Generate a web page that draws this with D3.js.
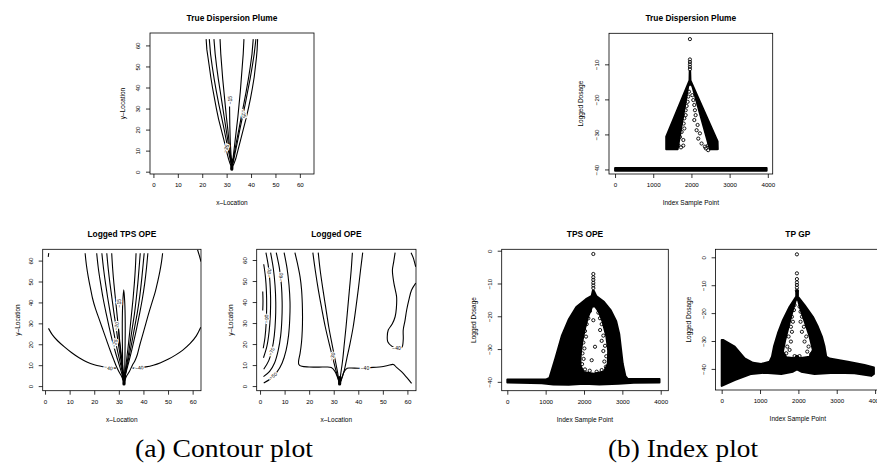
<!DOCTYPE html>
<html>
<head>
<meta charset="utf-8">
<script src="https://cdn.jsdelivr.net/npm/d3@7"></script>
<style>
  body { margin: 0; background: #fff; }
  svg { display: block; font-family: "Liberation Sans", Arial, Helvetica, sans-serif; }
  .title { font-weight: bold; font-size: 8.4px; text-anchor: middle; }
  .axlab { font-size: 6.5px; text-anchor: middle; }
  .tick text { font-family: "Liberation Sans", Arial, sans-serif; font-size: 6.2px; }
  .tick line { stroke-width: 0.8; }
  .caption { font-family: "Liberation Serif", "DejaVu Serif", serif; font-size: 26px; text-anchor: middle; }
  .clab { font-size: 5px; }
</style>
</head>
<body>
<div id="chart"></div>
<script>
// ---------------- data ----------------
const contourTicks = [0, 10, 20, 30, 40, 50, 60];
const indexTicks = [0, 1000, 2000, 3000, 4000];
const trueDoseTicks = [-10, -20, -30, -40];
const fitDoseTicks = [0, -10, -20, -30, -40];

// (a) True dispersion plume, contour lines as [x, y]
const truePlumeLines = [
  [[21.6,63],[21.9,58],[22.4,54],[22.9,50],[23.5,45],[24.2,40],[25,35],[25.8,30],[26.7,25],[27.8,20],[28.9,15],[29.9,10],[30.8,6],[31.5,3.5],[32.2,2.2],[32.9,3.5],[33.7,6],[34.6,10],[35.7,15],[36.8,20],[37.9,25],[38.9,30],[39.8,35],[40.6,40],[41.3,45],[41.8,50],[42.2,54],[42.5,58],[42.7,63]],
  [[22.9,63],[23.4,56],[24.1,50],[24.9,44],[25.8,38],[26.8,32],[27.9,26],[29,20],[30,14],[30.9,9],[31.6,5],[32.2,3],[32.8,5],[33.5,9],[34.4,14],[35.4,20],[36.5,26],[37.6,32],[38.6,38],[39.6,44],[40.5,50],[41.3,56],[42,63]],
  [[24.8,63],[25.3,56],[25.9,50],[26.6,44],[27.4,38],[28.2,32],[29,26],[29.8,20],[30.6,14],[31.2,9],[31.8,5],[32.2,3.2],[32.6,5],[33.2,9],[34,14],[35,20],[36,26],[37,32],[38,38],[38.9,44],[39.7,50],[40.4,56],[40.9,63]],
  [[27.3,63],[27.6,56],[28,50],[28.4,44],[28.9,38],[29.4,32],[29.9,26],[30.5,20],[31,14],[31.5,9],[31.9,5],[32.2,3.5],[32.5,5],[32.9,9],[33.4,14],[34,20],[34.6,26],[35.1,32],[35.6,38],[36,44],[36.4,50],[36.8,56],[37.1,63]],
  [[31.2,31],[31.3,22],[31.5,14],[31.8,8],[32.1,4]]
];
const truePlumeCore = [[32.1,1.2],[32.2,5.5]];
const truePlumeLabels = [[31.3,34,'-15',-90],[29.7,11,'-35',-70],[37,27.5,'-25',70]];

// (a) Logged TPS OPE
const tpsLines = [
  [[1.4,27.6],[3,24.5],[5,21.8],[8,18.6],[11,15.8],[14,13.4],[17,11.5],[20,10.2],[23,9.4],[26,8.8],[28.8,8.6]],
  [[35.6,8.6],[38.5,8.8],[41,9.2],[44,10],[47,11.2],[50,12.8],[53,14.8],[56,17.2],[59,20.4],[61.5,24],[63.3,28.1]],
  [[1.3,61.8],[1.5,63.6]],
  [[62,65.2],[62.7,62.5],[63.4,59.5]],
  [[16.3,63.5],[16.8,58],[17.6,52],[18.6,46],[19.3,42],[20.5,37],[22,32],[23.5,27],[25,22],[26.5,17],[27.8,13],[28.8,10],[30,7],[31.2,4.5],[32.1,2],[33,4.5],[34.3,7],[35.5,10],[36.5,12],[37.5,15],[38.6,20],[39.8,25],[41,30],[42.2,35],[43.5,40],[44.8,45],[45.8,50],[46.7,55],[47.3,59],[47.8,63.5]],
  [[21,63.5],[21.7,56],[22.6,49],[23.6,42],[24.8,35],[26.1,28],[27.5,21],[28.9,15],[30.2,10],[31.2,6],[32,2.5],[32.8,6],[33.7,10],[34.8,15],[36,21],[37.3,28],[38.5,35],[39.6,42],[40.5,49],[41.2,56],[41.8,63.5]],
  [[23.1,63.5],[23.8,56],[24.6,49],[25.5,42],[26.5,35],[27.6,28],[28.7,21],[29.8,15],[30.8,10],[31.5,6],[32.1,2.8],[32.7,6],[33.4,10],[34.3,15],[35.3,21],[36.4,28],[37.5,35],[38.4,42],[39.1,49],[39.7,56],[40.3,63.5]],
  [[25.1,63.5],[25.7,56],[26.4,49],[27.2,42],[28,35],[28.9,28],[29.7,21],[30.5,15],[31.2,10],[31.7,6],[32.2,3],[32.7,6],[33.2,10],[33.9,15],[34.6,21],[35.5,28],[36.4,35],[37.1,42],[37.7,49],[38.2,56],[38.7,63.5]],
  [[27.1,63.5],[27.5,56],[28,49],[28.6,42],[29.2,35],[29.8,28],[30.4,21],[31,15],[31.5,10],[31.9,6],[32.2,3.2],[32.5,6],[32.9,10],[33.4,15],[34,21],[34.6,28],[35.2,35],[35.8,42],[36.3,49],[36.7,56],[37,63.5]],
  [[29.8,29],[30.2,22],[30.8,15],[31.4,9],[32,4]],
  [[31.7,3],[31.5,15],[31.4,30],[31.6,40],[32,46],[32.4,40],[32.6,30],[32.5,15],[32.3,3]]
];
const tpsCore = [[32.1,1],[32.2,6]];
const tpsLabels = [[25.8,8.7,'-40',7],[38.3,8.8,'-40',-8],[30.1,39.6,'-15',-90],[29,28.7,'-20',-80],[28.3,20.4,'-25',-75]];

// (a) Logged OPE
const opeLines = [
  [[14.2,63.5],[15.3,58],[16.3,52],[16.9,46],[17.2,39.4],[17.3,33],[17.2,26.7],[16.9,21],[16.3,15.6],[15.7,12],[15.8,10.3],[17,9.4],[20,9.1],[24,9],[27,9.1],[29,8.8],[30.5,7],[31.6,4],[32.4,1.5],[33.3,4],[34.3,7],[35.5,8.5],[37,8.6],[40,8.5],[43,8.6],[46,8.9],[49.5,9.2],[52,9.8],[54.3,10.3],[55.5,9],[57.7,6.8],[59.8,4],[61.7,1.3]],
  [[21.5,63.5],[22.5,55],[23.7,46],[25.1,37],[26.6,28],[28.2,20],[29.7,13],[31,7],[32,3],[32.5,1.5],[33.1,3],[34.2,7],[35.3,13],[36.6,20],[37.9,28],[39,37],[40,46],[40.9,55],[41.8,63.5]],
  [[23.7,63.5],[24.5,55],[25.6,46],[26.8,37],[28,28],[29.3,20],[30.5,13],[31.5,7],[32.3,2.5],[33,7],[33.7,13],[34.3,20],[35,28],[35.7,37],[36.4,46],[37.1,55],[37.6,63.5]],
  [[9.8,63.5],[11,56],[11.8,48],[12.2,40],[12.1,32],[11.6,24],[10.6,17],[9,11],[6.8,6.5],[4.3,3.5],[1.5,1.5]],
  [[6.6,63.5],[7.9,56],[8.7,48],[9,40],[8.9,32],[8.4,24],[7.4,17],[5.9,11],[3.9,7],[1.4,4.5]],
  [[4.3,63.5],[5.4,56],[6.1,48],[6.4,40],[6.3,32],[5.8,24],[4.9,17.5],[3.5,12],[1.5,8]],
  [[2.4,63.5],[3.4,57],[4,50],[4.3,42],[4.2,34],[3.7,26],[2.8,19],[1.4,13.5]],
  [[1.5,58],[2.2,52],[2.6,45],[2.7,38],[2.5,30],[2,23],[1.3,18]],
  [[1.1,36],[1.2,40.5],[1.1,45]],
  [[55,63.5],[54.4,59],[53.9,55.2],[54.5,49],[55.6,42.5],[55.5,37],[55,33],[53.8,29.5],[52.2,26.7],[51.8,23.5],[52,21.1],[53.6,19],[55.6,17.9],[57.7,18.4],[58.3,22],[58.3,26.7],[59,31],[59.7,36.2],[60.6,41],[61.7,45.7],[63.4,49]],
  [[61.5,63.5],[62.4,61],[63,58.5],[63.4,56.8]]
];
const opeCore = [[32.4,1],[32.5,4]];
const opeLabels = [[42.7,8.6,'-40',0],[55.6,18.2,'-40',0],[29.4,14,'-30',-75],[3.6,54,'-80',-80],[2.6,32,'-90',-92],[4.6,16.5,'-70',-65],[5.2,4.9,'-50',-35],[8.3,52,'-60',-80]];

// (b) index plots: dense masses as rings [index, log dosage], open points as [index, log dosage]
const trueMass = [
  [[1,-39.6],[3969,-39.6],[3969,-40.4],[1,-40.4]],
  [[1340,-30.6],[1950,-14.6],[1955,-12],[1968,-12],[1975,-14.6],[2685,-32.0],[2690,-34.2],[2482,-34.2],[2022,-16.2],[1965,-15.6],[1917,-16.2],[1640,-34.2],[1340,-34.2]]
];
const truePoints = [[1961,-2.8],[1961,-8.6],[1961,-9.3],[1961,-10.0],[1961,-10.7],[1961,-11.4],
  [1936,-17.8],[1918,-19.2],[1901,-20.7],[1875,-21.9],[1849,-23.1],[1849,-24.5],[1814,-25.4],[1797,-26.9],[1814,-28.3],[1744,-29.3],[1700,-30.7],[1788,-31.6],[1657,-33.1],[1727,-33.7],
  [2023,-18.8],[2049,-20.2],[2075,-21.6],[2092,-23.1],[2110,-24.5],[2075,-25.9],[2162,-27.3],[2136,-28.8],[2223,-29.7],[2179,-31.2],[2266,-32.6],[2353,-33.5],[2439,-33.1],
  [1787,-33.2],[2378,-34.0],[2438,-34.5]];

const tpsMass = [
  [[1,-39.3],[1000,-39.3],[1100,-38.8],[1250,-33],[1420,-26],[1600,-21],[1800,-17.2],[2050,-14.8],[2200,-13.8],[2230,-12.2],[2255,-12.2],[2320,-13.8],[2520,-15.6],[2700,-18.2],[2840,-21.5],[2920,-25.5],[2965,-30],[3010,-34.5],[3080,-38.3],[3140,-39.1],[3969,-39.1],[3969,-40.2],[3300,-40.3],[2900,-40.6],[2400,-40.8],[2000,-40.6],[1600,-40.9],[1200,-40.8],[900,-40.4],[1,-40.2]],
  [[2215,-17],[2110,-20],[2030,-23.5],[1960,-27.5],[1915,-31.5],[1905,-35],[1990,-37],[2250,-37.5],[2520,-36.8],[2620,-34.5],[2630,-30.5],[2580,-26],[2480,-21.5],[2380,-18.5],[2290,-17]]
];
const tpsPoints = [[2243,-1.0],[2243,-7.1],[2243,-8.1],[2243,-8.9],[2243,-9.8],[2243,-10.6],[2243,-11.4],
  [2157,-18.4],[2113,-20.6],[2070,-22.4],[2026,-24.5],[2052,-26.2],[1983,-28],[2010,-29.8],[1960,-31.3],[1990,-33],[1950,-34.6],[2026,-36.2],
  [2374,-18.9],[2417,-20.6],[2461,-22.4],[2420,-24.2],[2504,-25.9],[2461,-27.5],[2548,-29],[2504,-30.6],[2580,-32.2],[2530,-33.8],[2570,-35.4],[2461,-36.4],[2330,-36.9],
  [2243,-21.2],[2200,-33.4],[2287,-29.3],[2150,-36.6]];

const gpMass = [
  [[1,-29.6],[35,-29.6],[339,-32.0],[599,-36.2],[816,-37.8],[1033,-38.2],[1250,-37.4],[1311,-35.6],[1363,-32.0],[1467,-27.2],[1597,-22.5],[1771,-17.7],[1901,-15.0],[1944,-14.1],[1944,-12.0],[1988,-12.0],[1988,-14.1],[2161,-17.1],[2378,-21.3],[2509,-24.9],[2613,-28.4],[2682,-32.0],[2726,-35.6],[2812,-36.3],[3290,-37.4],[3724,-38.6],[3969,-39.5],[3969,-41.8],[3898,-42.5],[3464,-41.6],[2943,-41.4],[2422,-41.8],[2075,-41.0],[1962,-40.2],[1858,-41.0],[1554,-41.8],[1120,-41.4],[773,-41.8],[339,-44.0],[1,-46.1]],
  [[1936,-15.2],[1832,-20.1],[1745,-24.9],[1658,-29.6],[1597,-33.8],[1684,-35.8],[1901,-36.2],[1962,-35.3],[2031,-36.2],[2292,-35.6],[2378,-33.2],[2292,-28.4],[2179,-23.7],[2075,-19.5],[1988,-15.2]]
];
const gpPoints = [[1962,1.06],[1962,-5.75],[1962,-7.8],[1962,-8.98],[1962,-9.9],[1962,-10.9],[1962,-11.96],
  [1901,-17.1],[1884,-18.9],[1832,-21.3],[1858,-23.1],[1806,-24.9],[1832,-26.7],[1745,-28.4],[1806,-30.2],[1710,-32.0],[1771,-33.2],[1684,-34.4],
  [2031,-17.7],[2057,-19.5],[2092,-21.3],[2057,-23.1],[2144,-24.9],[2092,-26.7],[2205,-28.4],[2161,-30.2],[2266,-32.0],[2231,-33.8],[2335,-34.7],
  [1901,-35.4],[2031,-35.4]];

// ---------------- drawing ----------------
const svg = d3.select('#chart').append('svg').attr('width', 877).attr('height', 471);
let clipCount = 0;

const fmt = d => d < 0 ? '\u2212' + Math.abs(d) : String(d);

function rPanel(cfg) {
  const x = d3.scaleLinear().domain(cfg.xDom).range([cfg.left, cfg.right]);
  const y = d3.scaleLinear().domain(cfg.yDom).range([cfg.bottom, cfg.top]);
  const g = svg.append('g');

  const clipId = 'clip' + (clipCount++);
  g.append('clipPath').attr('id', clipId)
   .append('rect')
   .attr('x', cfg.left).attr('y', cfg.top)
   .attr('width', cfg.right - cfg.left).attr('height', cfg.bottom - cfg.top);
  const plot = g.append('g').attr('clip-path', `url(#${clipId})`);

  const xa = g.append('g')
              .attr('transform', `translate(0,${cfg.bottom})`)
              .call(d3.axisBottom(x).tickValues(cfg.xTicks).tickSize(4).tickFormat(fmt));
  xa.select('.domain').remove();
  xa.selectAll('text').attr('y', 11).attr('dy', '0.35em');

  const ya = g.append('g')
              .attr('transform', `translate(${cfg.left},0)`)
              .call(d3.axisLeft(y).tickValues(cfg.yTicks).tickSize(4).tickFormat(fmt));
  ya.select('.domain').remove();
  ya.selectAll('text')
    .attr('x', null).attr('dy', null)
    .attr('transform', 'translate(-12.3,0) rotate(-90)')
    .attr('text-anchor', 'middle')
    .attr('dominant-baseline', 'central');

  g.append('rect')
   .attr('x', cfg.left).attr('y', cfg.top)
   .attr('width', cfg.right - cfg.left).attr('height', cfg.bottom - cfg.top)
   .attr('fill', 'none').attr('stroke', '#000').attr('stroke-width', 0.8);

  g.append('text').attr('class', 'title')
   .attr('x', (cfg.left + cfg.right) / 2).attr('y', cfg.top - 12)
   .text(cfg.title);

  g.append('text').attr('class', 'axlab')
   .attr('x', (cfg.left + cfg.right) / 2).attr('y', cfg.bottom + 31)
   .text(cfg.xLab);

  g.append('text').attr('class', 'axlab')
   .attr('transform', `translate(${cfg.left - cfg.yLabOff},${(cfg.top + cfg.bottom) / 2}) rotate(-90)`)
   .attr('dominant-baseline', 'central')
   .text(cfg.yLab);

  return {x, y, plot};
}

function drawContours(p, lines, core, labels, curve) {
  const line = d3.line().x(d => p.x(d[0])).y(d => p.y(d[1])).curve(curve);
  p.plot.selectAll('path.cline')
   .data(lines)
   .join('path')
   .attr('class', 'cline')
   .attr('d', line)
   .attr('fill', 'none')
   .attr('stroke', '#000')
   .attr('stroke-width', 1.1)
   .attr('stroke-linejoin', 'round');

  p.plot.append('path')
   .attr('d', d3.line().x(d => p.x(d[0])).y(d => p.y(d[1]))(core))
   .attr('stroke', '#000').attr('stroke-width', 3.2).attr('stroke-linecap', 'round');

  p.plot.selectAll('text.clab')
   .data(labels)
   .join('text')
   .attr('class', 'clab')
   .attr('transform', d => `translate(${p.x(d[0])},${p.y(d[1])}) rotate(${d[3]})`)
   .attr('text-anchor', 'middle')
   .attr('dominant-baseline', 'central')
   .style('paint-order', 'stroke')
   .style('stroke', '#fff')
   .style('stroke-width', 2.2)
   .style('fill', '#000')
   .text(d => fmt(+d[2]));
}

function drawIndex(p, mass, points) {
  const line = d3.line().x(d => p.x(d[0])).y(d => p.y(d[1]));
  p.plot.append('path')
   .attr('d', mass.map(r => line(r) + 'Z').join(''))
   .attr('fill', '#000')
   .attr('fill-rule', 'evenodd')
   .attr('stroke', '#000')
   .attr('stroke-width', 2)
   .attr('stroke-linejoin', 'round');

  p.plot.selectAll('circle.pt')
   .data(points)
   .join('circle')
   .attr('class', 'pt')
   .attr('cx', d => p.x(d[0]))
   .attr('cy', d => p.y(d[1]))
   .attr('r', 1.6)
   .attr('fill', 'none')
   .attr('stroke', '#000')
   .attr('stroke-width', 0.9);
}

// (a) contour panels
const pTrue = rPanel({left: 150, right: 314, top: 33, bottom: 174, xDom: [-1.4, 65.8], yDom: [-1.1, 65.9], yLabOff: 28,
  xTicks: contourTicks, yTicks: contourTicks, title: 'True Dispersion Plume', xLab: 'x\u2013Location', yLab: 'y\u2013Location'});
drawContours(pTrue, truePlumeLines, truePlumeCore, truePlumeLabels, d3.curveLinear);

const pTps = rPanel({left: 42.7, right: 201, top: 249.3, bottom: 390.7, xDom: [-0.95, 63.4], yDom: [-2.2, 65.4], yLabOff: 25,
  xTicks: contourTicks, yTicks: contourTicks, title: 'Logged TPS OPE', xLab: 'x\u2013Location', yLab: 'y\u2013Location'});
drawContours(pTps, tpsLines, tpsCore, tpsLabels, d3.curveCatmullRom);

const pOpe = rPanel({left: 256.7, right: 416, top: 249.3, bottom: 390.7, xDom: [-1.36, 63.5], yDom: [-2.2, 65.1], yLabOff: 26,
  xTicks: contourTicks, yTicks: contourTicks, title: 'Logged OPE', xLab: 'x\u2013Location', yLab: 'y\u2013Location'});
drawContours(pOpe, opeLines, opeCore, opeLabels, d3.curveCatmullRom);

// (b) index panels
const pTrueIdx = rPanel({left: 609, right: 772.7, top: 33.3, bottom: 174, xDom: [-158, 4128], yDom: [-41.3, -1.14], yLabOff: 29,
  xTicks: indexTicks, yTicks: trueDoseTicks, title: 'True Dispersion Plume', xLab: 'Index Sample Point', yLab: 'Logged Dosage'});
drawIndex(pTrueIdx, trueMass, truePoints);

const pTpsIdx = rPanel({left: 501.7, right: 668.3, top: 249.3, bottom: 390.7, xDom: [-146, 4198], yDom: [-42.7, 0.43], yLabOff: 28.4,
  xTicks: indexTicks, yTicks: fitDoseTicks, title: 'TPS OPE', xLab: 'Index Sample Point', yLab: 'Logged Dosage'});
drawIndex(pTpsIdx, tpsMass, tpsPoints);

const pGpIdx = rPanel({left: 715.6, right: 880, top: 249.3, bottom: 390, xDom: [-158, 4128], yDom: [-47.56, 2.87], yLabOff: 27,
  xTicks: indexTicks, yTicks: fitDoseTicks, title: 'TP GP', xLab: 'Index Sample Point', yLab: 'Logged Dosage'});
drawIndex(pGpIdx, gpMass, gpPoints);

// sub-figure captions
svg.append('text').attr('class', 'caption').attr('x', 224).attr('y', 457)
   .attr('textLength', 178).attr('lengthAdjust', 'spacingAndGlyphs').text('(a) Contour plot');
svg.append('text').attr('class', 'caption').attr('x', 683).attr('y', 457)
   .attr('textLength', 150).attr('lengthAdjust', 'spacingAndGlyphs').text('(b) Index plot');
</script>
</body>
</html>
